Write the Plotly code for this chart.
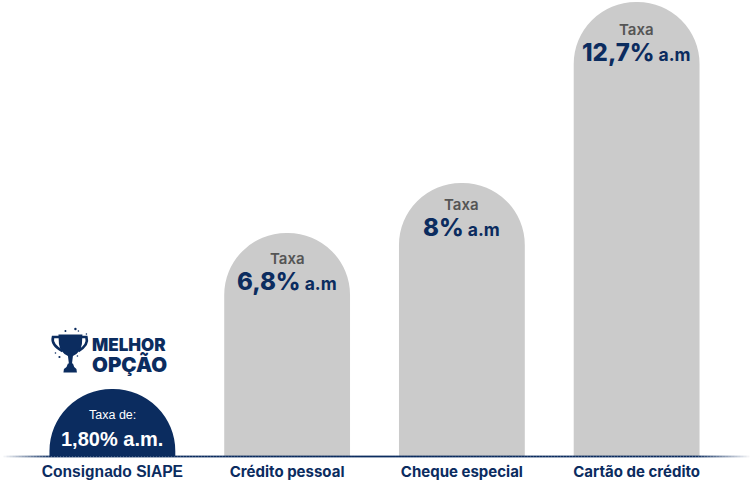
import plotly.graph_objects as go

NAVY = "#0b2c5f"
GREY = "#cbcbcb"

categories = ["Consignado SIAPE", "Crédito pessoal", "Cheque especial", "Cartão de crédito"]
bar_heights = [67, 223, 273, 454]
top_labels = ["Taxa de:", "Taxa", "Taxa", "Taxa"]
rate_labels = ["1,80% a.m.", "6,8%", "8%", "12,7%"]
rate_units = ["", " a.m", " a.m", " a.m"]

bar_colors = [NAVY, GREY, GREY, GREY]
top_shift = [-26, -25, -21, -27]
rate_shift = [-50, -48, -44, -50]

W, H = 750, 481
ML, MR, MT, MB = 24.5, 25.5, 0, 25
SANS = "Liberation Sans"
WIDE = "Inter"


def px(x):
    return (x - ML) / (W - ML - MR)


def py(y):
    return 1 - (y - MT) / (H - MT - MB)


ticktext = [
    f'<span style="font-family:{SANS};font-size:15.6px"><b>{categories[0]}</b></span>'
] + [f"<b>{c}</b>" for c in categories[1:]]

fig = go.Figure(
    go.Bar(x=categories, y=bar_heights, marker=dict(color=bar_colors, line_width=0), hoverinfo="skip")
)

annotations = []
for i, c in enumerate(categories):
    first = i == 0
    annotations.append(dict(
        x=c, y=bar_heights[i], xref="x", yref="y", yanchor="middle", showarrow=False,
        yshift=top_shift[i], text=top_labels[i],
        font=dict(family=SANS if first else WIDE, size=12.5 if first else 15,
                  color="white" if first else "#555555", weight=400 if first else 600),
    ))
    if first:
        rate = f"<b>{rate_labels[i]}</b>"
    else:
        rate = (f'<span style="font-size:24px;font-weight:800">{rate_labels[i]}</span>'
                f'<span style="font-size:17.5px;font-weight:700">{rate_units[i]}</span>')
    annotations.append(dict(
        x=c, y=bar_heights[i], xref="x", yref="y", yanchor="middle", showarrow=False,
        yshift=rate_shift[i], text=rate,
        font=dict(family=SANS if first else WIDE, size=20, color="white" if first else NAVY),
    ))

annotations.append(dict(
    x=px(92), y=py(355.5), xref="paper", yref="paper", xanchor="left", yanchor="middle",
    xshift=-2, showarrow=False, align="left",
    text='<span style="font-size:17px">MELHOR</span><br><span style="font-size:20.5px">OPÇÃO</span>',
    font=dict(family=WIDE, size=16.5, color=NAVY, weight=900),
))

shapes = []


def P(x, y):
    return f"{px(x):.5f},{py(y):.5f}"


cup = (f"M{P(58, 334.5)} L{P(82, 334.5)} L{P(81.5, 344)} Q{P(80, 353)} {P(72.5, 356)} "
       f"L{P(71.5, 364)} L{P(68.5, 364)} L{P(67.5, 356)} Q{P(60, 353)} {P(58.5, 344)} Z")
base = (f"M{P(67.5, 363.5)} L{P(72.5, 363.5)} Q{P(73, 367)} {P(76, 369)} L{P(76.5, 372.5)} "
        f"L{P(63, 372.5)} L{P(63.5, 369)} Q{P(67, 367)} {P(67.5, 363.5)} Z")
handle_l = f"M{P(59, 337)} L{P(52.5, 337)} Q{P(50.5, 345)} {P(62, 351)}"
handle_r = f"M{P(81, 337)} L{P(86, 337)} Q{P(88.5, 345)} {P(78, 351)}"
for path in (cup, base):
    shapes.append(dict(type="path", xref="paper", yref="paper", path=path,
                       fillcolor=NAVY, line_width=0, layer="above"))
for path in (handle_l, handle_r):
    shapes.append(dict(type="path", xref="paper", yref="paper", path=path,
                       line=dict(color=NAVY, width=2.6), layer="above"))
for cx, cy, r in [(75, 329, 1.2), (65, 331, 1), (78, 331, 0.8), (86, 334, 0.8), (55, 353, 0.8), (59, 357, 1.1), (77, 356, 0.8)]:
    shapes.append(dict(type="circle", xref="paper", yref="paper",
                       x0=px(cx - r), x1=px(cx + r), y0=py(cy + r), y1=py(cy - r),
                       fillcolor=NAVY, line_width=0, layer="above"))

# baseline fading out at both ends
STEP = 3
for x in range(0, W, STEP):
    if x < 50:
        op = x / 50
    elif x > 695:
        op = max(0, (W - x) / 55)
    else:
        op = 1
    shapes.append(dict(type="rect", xref="paper", yref="paper",
                       x0=px(x), x1=px(x + STEP), y0=py(457.4), y1=py(455.6),
                       fillcolor=NAVY, opacity=op, line_width=0, layer="above"))

fig.update_layout(
    width=W, height=H,
    margin=dict(l=ML, r=MR, t=MT, b=MB, pad=0),
    paper_bgcolor="white", plot_bgcolor="white",
    bargap=49 / 175,
    barcornerradius=63,
    showlegend=False,
    xaxis=dict(showgrid=False, zeroline=False, showline=False, ticks="", tickvals=categories, ticktext=ticktext,
               tickfont=dict(family=WIDE, size=15, color=NAVY), ticklabelstandoff=5,
               automargin=False, fixedrange=True),
    yaxis=dict(range=[0, 456], visible=False, fixedrange=True),
    annotations=annotations,
    shapes=shapes,
)
fig.write_html("out.html", config=dict(displayModeBar=False),
               post_script="document.body.style.margin='0';document.documentElement.style.overflow='hidden';")
